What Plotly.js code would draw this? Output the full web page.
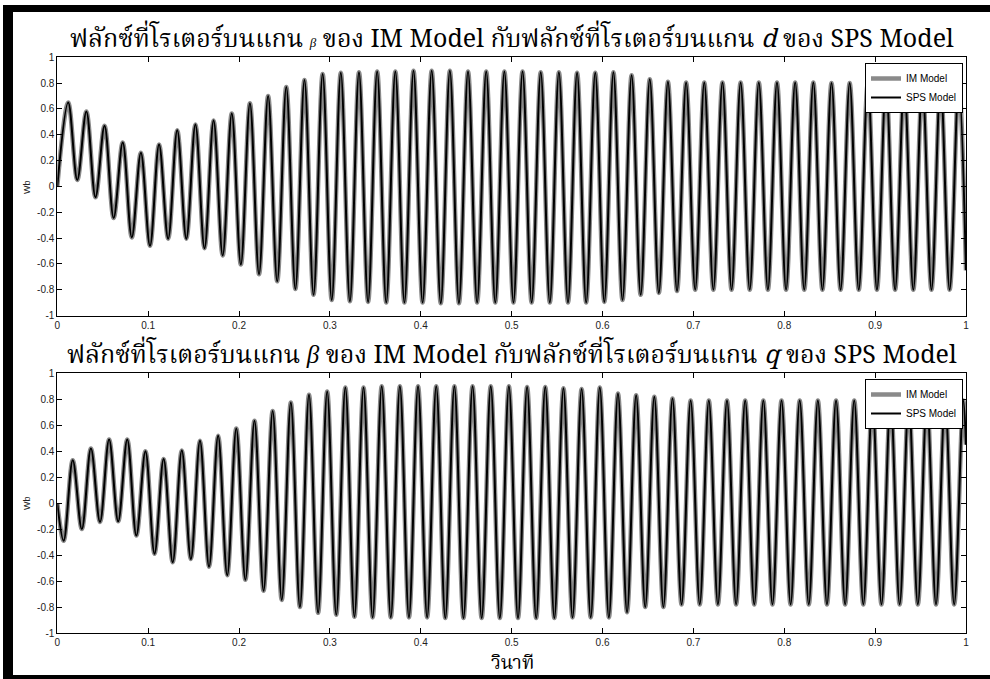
<!DOCTYPE html>
<html>
<head>
<meta charset="utf-8">
<script src="https://cdn.plot.ly/plotly-3.0.1.min.js"></script>
<style>
  html, body { margin: 0; padding: 0; background: #fff; }
  #chart { width: 990px; height: 679px; }
</style>
</head>
<body>
<div id="chart"></div>
<script>
// ---- Data (times of extrema, seconds; flux, Wb) ----
const topTime = [0, 0.012, 0.022, 0.032, 0.042, 0.052, 0.062, 0.072, 0.082, 0.092,
  0.102, 0.112, 0.122, 0.132, 0.142, 0.152, 0.162, 0.172, 0.182, 0.192,
  0.202, 0.212, 0.222, 0.232, 0.242, 0.252, 0.262, 0.272, 0.282, 0.292,
  0.302, 0.312, 0.322, 0.332, 0.342, 0.352, 0.362, 0.372, 0.382, 0.392,
  0.402, 0.412, 0.422, 0.432, 0.442, 0.452, 0.462, 0.472, 0.482, 0.492,
  0.502, 0.512, 0.522, 0.532, 0.542, 0.552, 0.562, 0.572, 0.582, 0.592,
  0.602, 0.612, 0.622, 0.632, 0.642, 0.652, 0.662, 0.672, 0.682, 0.692,
  0.702, 0.712, 0.722, 0.732, 0.742, 0.752, 0.762, 0.772, 0.782, 0.792,
  0.802, 0.812, 0.822, 0.832, 0.842, 0.852, 0.862, 0.872, 0.882, 0.892,
  0.902, 0.912, 0.922, 0.932, 0.942, 0.952, 0.962, 0.972, 0.982, 0.992, 1.0];
const topIM = [0, 0.65, 0.05, 0.58, -0.085, 0.47, -0.245, 0.34, -0.395, 0.26,
  -0.46, 0.325, -0.405, 0.435, -0.405, 0.48, -0.48, 0.51, -0.535, 0.565,
  -0.605, 0.645, -0.68, 0.70, -0.735, 0.77, -0.795, 0.825, -0.84, 0.87,
  -0.88, 0.88, -0.89, 0.885, -0.895, 0.89, -0.90, 0.89, -0.90, 0.895,
  -0.90, 0.895, -0.905, 0.895, -0.905, 0.89, -0.90, 0.89, -0.90, 0.89,
  -0.90, 0.89, -0.90, 0.885, -0.90, 0.885, -0.90, 0.88, -0.90, 0.88,
  -0.895, 0.885, -0.88, 0.86, -0.84, 0.83, -0.825, 0.81, -0.81, 0.805,
  -0.80, 0.805, -0.80, 0.805, -0.80, 0.805, -0.80, 0.805, -0.80, 0.805,
  -0.80, 0.805, -0.80, 0.805, -0.80, 0.80, -0.80, 0.80, -0.80, 0.80,
  -0.80, 0.80, -0.80, 0.80, -0.80, 0.80, -0.80, 0.80, -0.80, 0.80, -0.65];
const topSPS = [0, 0.65, 0.05, 0.58, -0.085, 0.47, -0.245, 0.34, -0.395, 0.26,
  -0.46, 0.325, -0.405, 0.435, -0.405, 0.48, -0.48, 0.51, -0.535, 0.565,
  -0.605, 0.645, -0.68, 0.70, -0.735, 0.77, -0.795, 0.825, -0.84, 0.87,
  -0.88, 0.88, -0.89, 0.885, -0.895, 0.89, -0.90, 0.89, -0.90, 0.895,
  -0.90, 0.895, -0.905, 0.895, -0.905, 0.89, -0.90, 0.89, -0.90, 0.89,
  -0.90, 0.89, -0.90, 0.885, -0.90, 0.885, -0.90, 0.88, -0.90, 0.88,
  -0.895, 0.885, -0.88, 0.86, -0.84, 0.83, -0.825, 0.81, -0.81, 0.805,
  -0.80, 0.805, -0.80, 0.805, -0.80, 0.805, -0.80, 0.805, -0.80, 0.805,
  -0.80, 0.805, -0.80, 0.805, -0.80, 0.80, -0.80, 0.80, -0.80, 0.80,
  -0.80, 0.80, -0.80, 0.80, -0.80, 0.80, -0.80, 0.80, -0.80, 0.80, -0.65];

const botTime = [0, 0.007, 0.017, 0.027, 0.037, 0.047, 0.057, 0.067, 0.077, 0.087,
  0.097, 0.107, 0.117, 0.127, 0.137, 0.147, 0.157, 0.167, 0.177, 0.187,
  0.197, 0.207, 0.217, 0.227, 0.237, 0.247, 0.257, 0.267, 0.277, 0.287,
  0.297, 0.307, 0.317, 0.327, 0.337, 0.347, 0.357, 0.367, 0.377, 0.387,
  0.397, 0.407, 0.417, 0.427, 0.437, 0.447, 0.457, 0.467, 0.477, 0.487,
  0.497, 0.507, 0.517, 0.527, 0.537, 0.547, 0.557, 0.567, 0.577, 0.587,
  0.597, 0.607, 0.617, 0.627, 0.637, 0.647, 0.657, 0.667, 0.677, 0.687,
  0.697, 0.707, 0.717, 0.727, 0.737, 0.747, 0.757, 0.767, 0.777, 0.787,
  0.797, 0.807, 0.817, 0.827, 0.837, 0.847, 0.857, 0.867, 0.877, 0.887,
  0.897, 0.907, 0.917, 0.927, 0.937, 0.947, 0.957, 0.967, 0.977, 0.987,
  0.997, 1.0];
const botIM = [0, -0.29, 0.33, -0.20, 0.42, -0.145, 0.49, -0.14, 0.49, -0.25,
  0.40, -0.39, 0.34, -0.455, 0.405, -0.43, 0.48, -0.49, 0.52, -0.555,
  0.575, -0.59, 0.635, -0.675, 0.71, -0.745, 0.775, -0.80, 0.835, -0.845,
  0.86, -0.86, 0.89, -0.875, 0.89, -0.88, 0.90, -0.88, 0.90, -0.88,
  0.90, -0.88, 0.90, -0.885, 0.90, -0.885, 0.90, -0.885, 0.90, -0.885,
  0.90, -0.885, 0.895, -0.885, 0.895, -0.885, 0.885, -0.88, 0.88, -0.88,
  0.89, -0.88, 0.845, -0.84, 0.83, -0.80, 0.82, -0.80, 0.805, -0.78,
  0.79, -0.78, 0.79, -0.78, 0.79, -0.78, 0.79, -0.78, 0.79, -0.78,
  0.79, -0.78, 0.79, -0.78, 0.79, -0.78, 0.79, -0.78, 0.79, -0.78,
  0.79, -0.78, 0.79, -0.78, 0.79, -0.78, 0.79, -0.78, 0.79, -0.78,
  0.79, 0.45];
const botSPS = [0, -0.29, 0.33, -0.20, 0.42, -0.145, 0.49, -0.14, 0.49, -0.25,
  0.40, -0.39, 0.34, -0.455, 0.405, -0.43, 0.48, -0.49, 0.52, -0.555,
  0.575, -0.59, 0.635, -0.675, 0.71, -0.745, 0.775, -0.80, 0.835, -0.845,
  0.86, -0.86, 0.89, -0.875, 0.89, -0.88, 0.90, -0.88, 0.90, -0.88,
  0.90, -0.88, 0.90, -0.885, 0.90, -0.885, 0.90, -0.885, 0.90, -0.885,
  0.90, -0.885, 0.895, -0.885, 0.895, -0.885, 0.885, -0.88, 0.88, -0.88,
  0.89, -0.88, 0.845, -0.84, 0.83, -0.80, 0.82, -0.80, 0.805, -0.78,
  0.79, -0.78, 0.79, -0.78, 0.79, -0.78, 0.79, -0.78, 0.79, -0.78,
  0.79, -0.78, 0.79, -0.78, 0.79, -0.78, 0.79, -0.78, 0.79, -0.78,
  0.79, -0.78, 0.79, -0.78, 0.79, -0.78, 0.79, -0.78, 0.79, -0.78,
  0.79, 0.45];

const seriesNames = ["IM Model", "SPS Model"];
const xTickVals = [0, 0.1, 0.2, 0.3, 0.4, 0.5, 0.6, 0.7, 0.8, 0.9, 1];
const xTickText = ["0", "0.1", "0.2", "0.3", "0.4", "0.5", "0.6", "0.7", "0.8", "0.9", "1"];
const yTickVals = [-1, -0.8, -0.6, -0.4, -0.2, 0, 0.2, 0.4, 0.6, 0.8, 1];
const yTickText = ["-1", "-0.8", "-0.6", "-0.4", "-0.2", "0", "0.2", "0.4", "0.6", "0.8", "1"];
const topTitle = "ฟลักซ์ที่โรเตอร์บนแกน <span style='font-size:13px'><i>β</i></span> ของ IM Model กับฟลักซ์ที่โรเตอร์บนแกน <i>d</i> ของ SPS Model";
const botTitle = "ฟลักซ์ที่โรเตอร์บนแกน <i>β</i> ของ IM Model กับฟลักซ์ที่โรเตอร์บนแกน <i>q</i> ของ SPS Model";
const xLabel = "วินาที";
const yLabel = "Wb";

// ---- Layout geometry ----
const W = 990, H = 679;
const px = v => v / W;
const py = v => 1 - v / H;
const thaiFont = "'Noto Serif Thai', 'Norasi', 'Noto Sans Thai', 'Loma', 'Garuda', 'Liberation Serif', serif";
const tickFont = { family: "'Liberation Sans', Arial, sans-serif", size: 10, color: "#222" };

function xAxis(anchor) {
  return {
    domain: [px(57.3), px(966)], range: [0, 1], anchor: anchor,
    tickmode: "array", tickvals: xTickVals, ticktext: xTickText,
    ticks: "inside", ticklen: 5, tickwidth: 1, tickcolor: "#000",
    mirror: "allticks", showline: true, linecolor: "#000", linewidth: 1,
    showgrid: false, zeroline: false, tickfont: tickFont, fixedrange: true
  };
}
function yAxis(anchor, top, bottom) {
  return {
    domain: [py(bottom), py(top)], range: [-1, 1], anchor: anchor,
    tickmode: "array", tickvals: yTickVals, ticktext: yTickText,
    ticks: "inside", ticklen: 5, tickwidth: 1, tickcolor: "#000",
    mirror: "allticks", showline: true, linecolor: "#000", linewidth: 1,
    showgrid: false, zeroline: false, tickfont: tickFont, fixedrange: true
  };
}

const imStyle = { color: "#8a8a8a", width: 4.5, shape: "spline", smoothing: 1 };
const spsStyle = { color: "#000000", width: 2, shape: "spline", smoothing: 1 };

const traces = [
  { x: topTime, y: topIM, name: seriesNames[0], mode: "lines", line: imStyle, xaxis: "x", yaxis: "y", legend: "legend" },
  { x: topTime, y: topSPS, name: seriesNames[1], mode: "lines", line: spsStyle, xaxis: "x", yaxis: "y", legend: "legend" },
  { x: botTime, y: botIM, name: seriesNames[0], mode: "lines", line: imStyle, xaxis: "x2", yaxis: "y2", legend: "legend2" },
  { x: botTime, y: botSPS, name: seriesNames[1], mode: "lines", line: spsStyle, xaxis: "x2", yaxis: "y2", legend: "legend2" }
];

const legendBase = {
  xanchor: "right", yanchor: "top", x: px(963),
  bgcolor: "#fff", bordercolor: "#000", borderwidth: 1,
  font: { family: "'Liberation Sans', Arial, sans-serif", size: 10, color: "#000" },
  tracegroupgap: 0, itemwidth: 30
};

const layout = {
  width: W, height: H,
  margin: { l: 0, r: 0, t: 0, b: 0 },
  paper_bgcolor: "#fff", plot_bgcolor: "#fff",
  showlegend: true,
  xaxis: xAxis("y"),
  yaxis: yAxis("x", 57.3, 315.5),
  xaxis2: xAxis("y2"),
  yaxis2: yAxis("x2", 373.3, 633),
  legend: Object.assign({}, legendBase, { y: py(63) }),
  legend2: Object.assign({}, legendBase, { y: py(379) }),
  annotations: [
    { text: topTitle, xref: "paper", yref: "paper", x: px(512), y: py(40), xanchor: "center", yanchor: "middle",
      showarrow: false, font: { family: thaiFont, size: 25, color: "#000" } },
    { text: botTitle, xref: "paper", yref: "paper", x: px(512), y: py(356), xanchor: "center", yanchor: "middle",
      showarrow: false, font: { family: thaiFont, size: 25, color: "#000" } },
    { text: xLabel, xref: "paper", yref: "paper", x: px(512), y: py(663.5), xanchor: "center", yanchor: "middle",
      borderpad: 0, showarrow: false, font: { family: thaiFont, size: 19, color: "#000" } },
    { text: yLabel, xref: "paper", yref: "paper", x: px(27), y: py(187), xanchor: "center", yanchor: "middle", textangle: -90,
      showarrow: false, font: { family: "'Liberation Sans', Arial, sans-serif", size: 9, color: "#222" } },
    { text: yLabel, xref: "paper", yref: "paper", x: px(27), y: py(503), xanchor: "center", yanchor: "middle", textangle: -90,
      showarrow: false, font: { family: "'Liberation Sans', Arial, sans-serif", size: 9, color: "#222" } }
  ],
  shapes: [
    { type: "rect", xref: "paper", yref: "paper", x0: px(3), x1: px(13), y0: py(679), y1: py(5), fillcolor: "#000", line: { width: 0 } },
    { type: "rect", xref: "paper", yref: "paper", x0: px(3), x1: px(990), y0: py(12), y1: py(5), fillcolor: "#000", line: { width: 0 } },
    { type: "rect", xref: "paper", yref: "paper", x0: px(3), x1: px(990), y0: py(679), y1: py(675), fillcolor: "#000", line: { width: 0 } }
  ]
};

Plotly.newPlot("chart", traces, layout, { staticPlot: true, displayModeBar: false });
</script>
</body>
</html>
